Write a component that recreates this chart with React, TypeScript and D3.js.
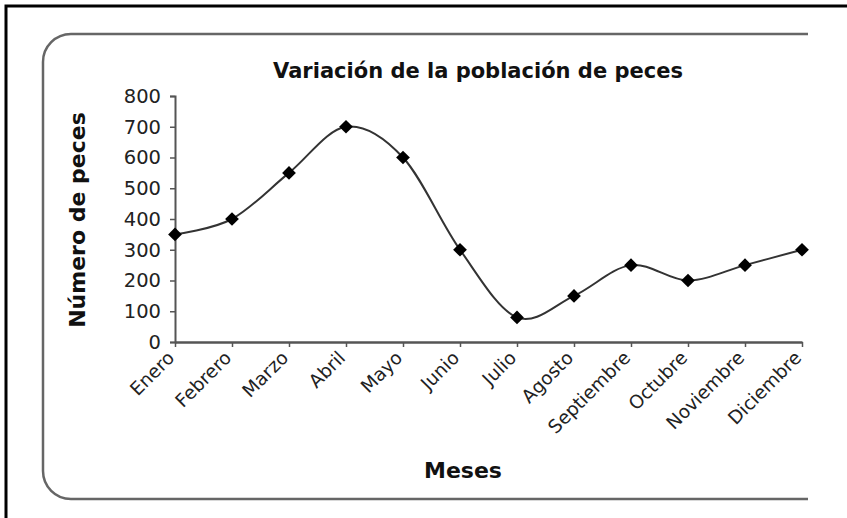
import React, { useEffect, useRef } from 'react';
import * as d3 from 'd3';

const months = ['Enero', 'Febrero', 'Marzo', 'Abril', 'Mayo', 'Junio', 'Julio', 'Agosto', 'Septiembre', 'Octubre', 'Noviembre', 'Diciembre'];
const fish = [350, 400, 550, 700, 600, 300, 80, 150, 250, 200, 250, 300];
const yTicks = [0, 100, 200, 300, 400, 500, 600, 700, 800];

export default function App() {
  const ref = useRef<SVGSVGElement>(null);

  useEffect(() => {
    const svg = d3.select(ref.current);
    svg.selectAll('*').remove();

    const font = 'DejaVu Sans, Verdana, sans-serif';

    // outer frame (left and top only)
    svg.append('path')
      .attr('d', 'M6,518 V6 H847')
      .attr('fill', 'none')
      .attr('stroke', '#000')
      .attr('stroke-width', 3);

    // rounded chart area border, open on the right
    const bx0 = 43, by0 = 34, bx1 = 808, by1 = 499, r = 28;
    svg.append('path')
      .attr('d', `M${bx1},${by0} H${bx0 + r} A${r},${r} 0 0 0 ${bx0},${by0 + r} V${by1 - r} A${r},${r} 0 0 0 ${bx0 + r},${by1} H${bx1}`)
      .attr('fill', 'none')
      .attr('stroke', '#666')
      .attr('stroke-width', 2.5);

    const x = d3.scalePoint<string>().domain(months).range([175, 802]);
    const y = d3.scaleLinear().domain([0, 800]).range([342, 96]);

    // title
    svg.append('text')
      .attr('x', 478)
      .attr('y', 78)
      .attr('text-anchor', 'middle')
      .attr('font-family', font)
      .attr('font-weight', 'bold')
      .attr('font-size', 21)
      .attr('fill', '#111')
      .text('Variación de la población de peces');

    // y axis
    const yAxis = svg.append('g')
      .attr('transform', `translate(${x('Enero')},0)`)
      .call(d3.axisLeft(y).tickValues(yTicks).tickSize(5).tickPadding(9).tickFormat(d3.format('d')));
    yAxis.select('.domain').attr('stroke', '#555').attr('stroke-width', 2);
    yAxis.selectAll('.tick line').attr('stroke', '#555').attr('stroke-width', 1.5);
    yAxis.selectAll('.tick text')
      .attr('font-family', font)
      .attr('font-size', 19.5)
      .attr('fill', '#222');

    // x axis
    const xAxis = svg.append('g')
      .attr('transform', `translate(0,${y(0)})`)
      .call(d3.axisBottom(x).tickSize(5).tickSizeOuter(0));
    xAxis.select('.domain').attr('stroke', '#555').attr('stroke-width', 2.5);
    xAxis.selectAll('.tick line').attr('stroke', '#555').attr('stroke-width', 1.5);
    xAxis.selectAll('.tick text')
      .attr('font-family', font)
      .attr('font-size', 18.5)
      .attr('fill', '#222')
      .attr('text-anchor', 'end')
      .attr('dy', null)
      .attr('y', 0)
      .attr('transform', 'translate(0,17) rotate(-45)');

    // axis titles
    svg.append('text')
      .attr('transform', 'translate(85,220) rotate(-90)')
      .attr('text-anchor', 'middle')
      .attr('font-family', font)
      .attr('font-weight', 'bold')
      .attr('font-size', 22)
      .attr('fill', '#111')
      .text('Número de peces');

    svg.append('text')
      .attr('x', 463)
      .attr('y', 478)
      .attr('text-anchor', 'middle')
      .attr('font-family', font)
      .attr('font-weight', 'bold')
      .attr('font-size', 22)
      .attr('fill', '#111')
      .text('Meses');

    // smoothed line
    const line = d3.line<number>()
      .x((_, i) => x(months[i]) as number)
      .y(d => y(d))
      .curve(d3.curveCardinal.tension(0));

    svg.append('path')
      .datum(fish)
      .attr('d', line)
      .attr('fill', 'none')
      .attr('stroke', '#333')
      .attr('stroke-width', 2);

    // diamond markers
    svg.selectAll('.marker')
      .data(fish)
      .enter()
      .append('path')
      .attr('class', 'marker')
      .attr('d', d3.symbol().type(d3.symbolDiamond2).size(120))
      .attr('transform', (d, i) => `translate(${x(months[i])},${y(d)})`)
      .attr('fill', '#000');
  }, []);

  return (
    <svg
      ref={ref}
      width={847}
      height={518}
      style={{ position: 'absolute', left: 0, top: 0, background: '#fff' }}
    />
  );
}
